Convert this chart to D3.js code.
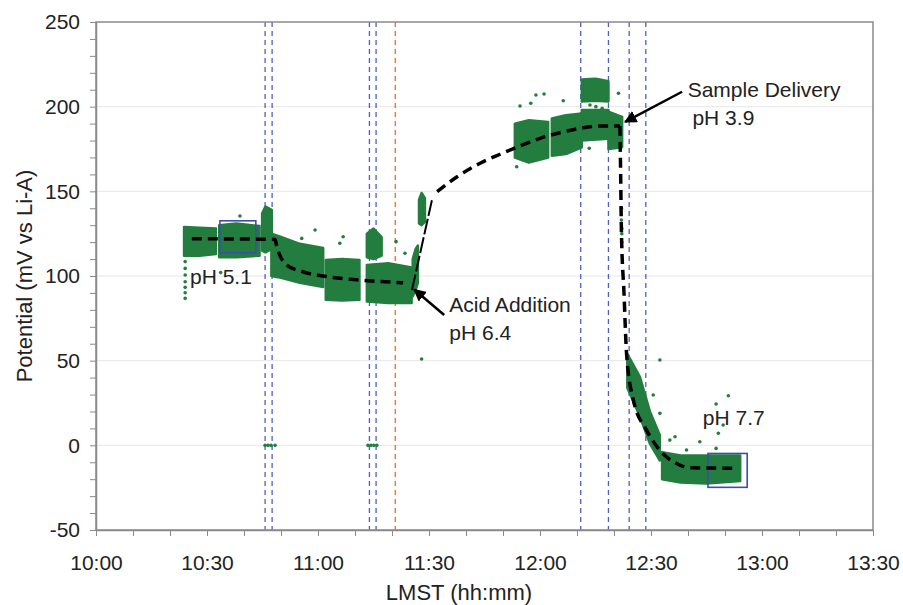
<!DOCTYPE html>
<html>
<head>
<meta charset="utf-8">
<script src="https://cdn.jsdelivr.net/npm/d3@7"></script>
<style>
  body { margin: 0; background: #fff; }
  svg text { font-family: "Liberation Sans", Arial, sans-serif; fill: #222; }
</style>
</head>
<body>
<div id="chart"></div>
<script>
// Times are minutes after 10:00 LMST, values are mV vs Li-A

// dense clusters of readings: [minute, low, high] envelope
const clA1 = [[23.8, 112, 129], [28, 112, 128.5], [32.4, 113, 128]];
const clA2 = [[33.3, 111, 130], [38, 111, 131], [44.2, 112, 129.5]];
const clB  = [[44.9, 115, 137], [45.8, 114, 141], [47.5, 116, 139]];
const clC  = [[47.4, 100, 125], [50, 99, 123], [55.1, 96, 119], [61.4, 93.5, 116.5]];
const clD  = [[62.1, 86, 109.5], [66.5, 85.5, 110], [71.2, 86, 109.5]];
const clE  = [[73.2, 85, 106.5], [79, 84, 107.5], [85.3, 84, 105]];
const clF  = [[73.2, 111, 125], [75, 110, 128], [77.2, 112, 123]];
const clAcid = [[85.6, 88, 110], [86.4, 92, 116], [87.0, 96, 118]];
const clJump = [[87.3, 131, 145], [88.0, 130, 149], [88.9, 132, 146]];
const clG1 = [[113.2, 170, 190], [117, 167, 192], [122.2, 170, 191]];
const clG2 = [[123.2, 171, 193], [127, 172, 195], [131.3, 176, 196]];
const clH  = [[131.3, 180, 198], [138.5, 181, 198]];
const clI  = [[131.3, 203, 216], [135, 203.5, 216.5], [138.5, 203, 215]];
const clJ  = [[138.5, 175, 197], [142.2, 176, 194]];
const clK  = [[143.6, 34, 54], [147.0, 17, 40.5], [149.7, 1, 20], [152.4, -9, 6]];
const clL  = [[153.0, -20, -4], [158, -22, -6], [165, -22.5, -6], [174.1, -21, -6]];
const clusters = [clA1, clA2, clB, clC, clD, clE, clF, clAcid, clJump,
                  clG1, clG2, clH, clI, clJ, clK, clL];

// isolated readings [minute, value]
const strays = [
  [24.1, 108.5], [24.1, 104.5], [24.1, 100.6], [24.1, 96.6], [24.1, 93.3], [24.1, 90.1], [24.1, 86.8],
  [38.9, 135.4], [33.7, 102],
  [55.6, 122.2], [59.2, 127.2], [65.9, 119.3], [66.8, 123.2], [81.1, 120.3], [83.5, 113.4],
  [45.7, 0], [46.5, 0], [47.3, 0], [48.4, 0], [73.5, 0], [74.3, 0], [75.1, 0], [75.9, 0],
  [88.0, 51],
  [113.7, 164.5], [114.6, 200.4], [117.5, 202], [118.9, 206.9], [121.1, 207.5], [126.3, 203.5],
  [133.3, 175.4], [133.5, 201], [135.1, 200], [136.8, 199], [141.2, 207.9],
  [142.0, 140], [142.0, 133], [142.1, 128], [142.1, 125], [142.1, 120],
  [152.4, 50.4], [150.6, 29.7], [152.4, 18.9], [155.1, 3.1], [156.5, 5.1], [159.6, -2.8],
  [163.2, 2.1], [167.6, -1.8], [168.2, 7.1], [169.5, 12], [167.6, 24.4], [170.9, 29.3]
];

// dashed trend line pieces
const fitEarly = [[25.9, 122], [48.4, 121.6], [48.8, 118], [51.5, 106.5], [55.9, 102.5],
                  [62.4, 99.6], [71.4, 97.6], [83.0, 96]];
const fitAcid  = [[85.4, 91.7], [90.8, 144.9]];
const fitRise  = [[92.2, 149.8], [97.6, 158.6], [103.8, 166.6], [109.2, 171.9], [114.6, 176.8],
                  [120.0, 181.3], [125.4, 184.6], [130.8, 187.2], [136.2, 188.6], [141.6, 188.6]];
const fitDrop  = [[141.6, 188.6], [141.8, 160], [142.0, 127], [142.7, 90], [143.4, 54],
                  [145.2, 27], [148.8, 9], [152.4, -3], [156.9, -10.7], [160.5, -13.3], [173.5, -13.5]];

// event markers
const blueEvents = [45.7, 47.6, 73.9, 75.7, 131.0, 138.5, 144.1, 148.6];
const orangeEvents = [80.9];

// averaging windows [t0, t1, v0, v1]
const windows = [[33.5, 43.2, 113.7, 132.6], [165.4, 176.0, -24.8, -4.8]];

// labels
const notes = [
  { text: "pH 5.1", t: 25.4, v: 95 },
  { text: "Acid Addition", t: 95.5, v: 78.5 },
  { text: "pH 6.4", t: 95.5, v: 62 },
  { text: "Sample Delivery", t: 159.9, v: 205.5 },
  { text: "pH 3.9", t: 161.2, v: 189 },
  { text: "pH 7.7", t: 164, v: 11.8 }
];
const arrows = [
  { from: [94.1, 77], to: [86.0, 92] },
  { from: [158.4, 208.8], to: [143.0, 191] }
];

const yTicks = [-50, 0, 50, 100, 150, 200, 250];

const width = 903, height = 605;
const margin = { top: 22, right: 30, bottom: 75, left: 96 };

const T0 = new Date(2000, 0, 1, 10, 0);
const toDate = m => new Date(T0.getTime() + m * 60000);

const svg = d3.select("#chart").append("svg")
  .attr("width", width).attr("height", height);

const x = d3.scaleTime()
  .domain([toDate(0), toDate(210)])
  .range([margin.left, width - margin.right]);
const y = d3.scaleLinear()
  .domain([-50, 250])
  .range([height - margin.bottom, margin.top]);

const green = "#237d3f";

// grid
svg.append("g").selectAll("line")
  .data(yTicks.slice(1, -1))
  .join("line")
  .attr("x1", margin.left).attr("x2", width - margin.right)
  .attr("y1", d => y(d)).attr("y2", d => y(d))
  .attr("stroke", "#e6e6e6").attr("stroke-width", 1);

// event lines
svg.append("g").selectAll("line")
  .data(blueEvents)
  .join("line")
  .attr("x1", d => x(toDate(d))).attr("x2", d => x(toDate(d)))
  .attr("y1", y(250)).attr("y2", y(-50))
  .attr("stroke", "#4e5fc4").attr("stroke-width", 1.3)
  .attr("stroke-dasharray", "5,4");
svg.append("g").selectAll("line")
  .data(orangeEvents)
  .join("line")
  .attr("x1", d => x(toDate(d))).attr("x2", d => x(toDate(d)))
  .attr("y1", y(250)).attr("y2", y(-50))
  .attr("stroke", "#f07a3a").attr("stroke-width", 1.5)
  .attr("stroke-dasharray", "5,4");

// clusters
const area = d3.area()
  .x(d => x(toDate(d[0])))
  .y0(d => y(d[1]))
  .y1(d => y(d[2]));
svg.append("g").selectAll("path")
  .data(clusters)
  .join("path")
  .attr("d", area)
  .attr("fill", green)
  .attr("stroke", green)
  .attr("stroke-width", 2.5)
  .attr("stroke-linejoin", "round");

svg.append("g").selectAll("circle")
  .data(strays)
  .join("circle")
  .attr("cx", d => x(toDate(d[0])))
  .attr("cy", d => y(d[1]))
  .attr("r", 1.8)
  .attr("fill", green);

// averaging windows
svg.append("g").selectAll("rect")
  .data(windows)
  .join("rect")
  .attr("x", d => x(toDate(d[0])))
  .attr("y", d => y(d[3]))
  .attr("width", d => x(toDate(d[1])) - x(toDate(d[0])))
  .attr("height", d => y(d[2]) - y(d[3]))
  .attr("fill", "none")
  .attr("stroke", "#3b4fa8")
  .attr("stroke-width", 1.6);

// trend lines
const line = d3.line()
  .x(d => x(toDate(d[0])))
  .y(d => y(d[1]))
  .curve(d3.curveMonotoneX);
svg.append("g").selectAll("path")
  .data([fitEarly, fitRise, fitDrop])
  .join("path")
  .attr("d", line)
  .attr("fill", "none")
  .attr("stroke", "#000")
  .attr("stroke-width", 3.5)
  .attr("stroke-dasharray", "10,6");
svg.append("path")
  .datum(fitAcid)
  .attr("d", line)
  .attr("fill", "none")
  .attr("stroke", "#000")
  .attr("stroke-width", 2)
  .attr("stroke-dasharray", "16,3");

// frame
svg.append("rect")
  .attr("x", margin.left).attr("y", margin.top)
  .attr("width", width - margin.left - margin.right)
  .attr("height", height - margin.top - margin.bottom)
  .attr("fill", "none").attr("stroke", "#8a8a8a").attr("stroke-width", 1.5);

// axes
const xTickVals = d3.range(0, 211, 10).map(toDate);
const fmt = d3.timeFormat("%H:%M");
const xAxis = d3.axisBottom(x)
  .tickValues(xTickVals)
  .tickSize(6).tickSizeOuter(0).tickPadding(19)
  .tickFormat(d => d.getMinutes() % 30 === 0 ? fmt(d) : "");
const gx = svg.append("g")
  .attr("transform", `translate(0,${height - margin.bottom})`)
  .call(xAxis);

const yAxis = d3.axisLeft(y)
  .tickValues(d3.range(-50, 251, 10))
  .tickSize(6).tickSizeOuter(0).tickPadding(10)
  .tickFormat(d => yTicks.includes(d) ? d : "");
const gy = svg.append("g")
  .attr("transform", `translate(${margin.left},0)`)
  .call(yAxis);

[gx, gy].forEach(g => {
  g.select(".domain").attr("stroke", "#8a8a8a").attr("stroke-width", 1.5);
  g.selectAll(".tick line").attr("stroke", "#8a8a8a");
  g.selectAll(".tick text").style("font-size", "21px").attr("fill", "#222");
});

svg.append("text")
  .attr("x", 459)
  .attr("y", 600)
  .attr("text-anchor", "middle")
  .style("font-size", "22px")
  .text("LMST (hh:mm)");
svg.append("text")
  .attr("transform", `translate(32,${(margin.top + height - margin.bottom) / 2}) rotate(-90)`)
  .attr("text-anchor", "middle")
  .style("font-size", "22px")
  .text("Potential (mV vs Li-A)");

// annotations
svg.append("defs").append("marker")
  .attr("id", "head")
  .attr("viewBox", "0 0 10 10")
  .attr("refX", 9).attr("refY", 5)
  .attr("markerWidth", 5).attr("markerHeight", 5)
  .attr("markerUnits", "strokeWidth")
  .attr("orient", "auto")
  .append("path").attr("d", "M0,0L10,5L0,10Z").attr("fill", "#000");

svg.append("g").selectAll("line")
  .data(arrows)
  .join("line")
  .attr("x1", d => x(toDate(d.from[0]))).attr("y1", d => y(d.from[1]))
  .attr("x2", d => x(toDate(d.to[0]))).attr("y2", d => y(d.to[1]))
  .attr("stroke", "#000").attr("stroke-width", 2.5)
  .attr("marker-end", "url(#head)");

svg.append("g").selectAll("text")
  .data(notes)
  .join("text")
  .attr("x", d => x(toDate(d.t)))
  .attr("y", d => y(d.v))
  .style("font-size", "21px")
  .text(d => d.text);
</script>
</body>
</html>
